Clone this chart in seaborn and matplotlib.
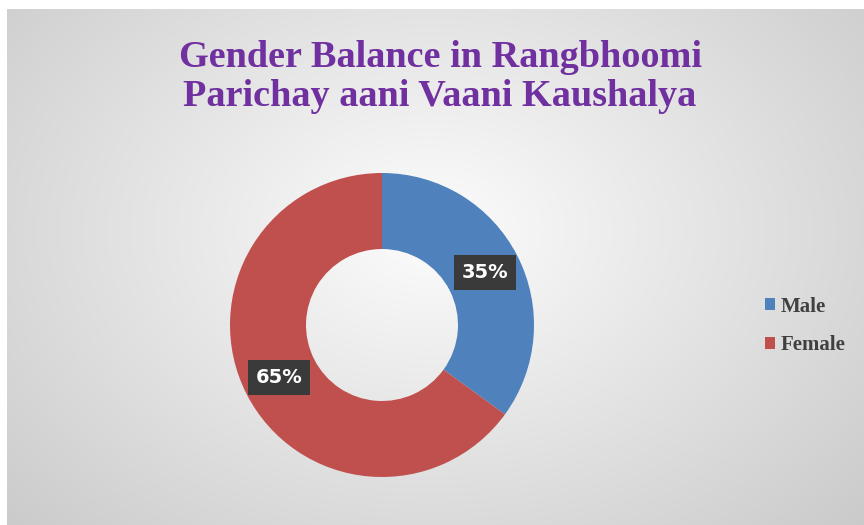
import numpy as np
import matplotlib
matplotlib.use("Agg")
import matplotlib.pyplot as plt
import seaborn as sns
from matplotlib.patches import Patch

categories = ["Male", "Female"]
values = [35, 65]
colors = ["#4F81BD", "#C0504D"]
title = "Gender Balance in Rangbhoomi\nParichay aani Vaani Kaushalya"

sns.set_theme(style="white")
plt.rcParams['font.family'] = ['DejaVu Sans']

W, H = 864, 525
fig = plt.figure(figsize=(W / 100, H / 100), dpi=100)
fig.patch.set_facecolor("white")

# background gradient panel
bx0, by0 = 7, 9
bg = fig.add_axes([bx0 / W, 0, 1 - bx0 / W, 1 - by0 / H])
nx, ny = W - bx0, H - by0
xx, yy = np.meshgrid(np.arange(nx), np.arange(ny))
cx, cy = 430 - bx0, 230 - by0
d = np.sqrt(((xx - cx) / 600.0) ** 2 + ((yy - cy) / 440.0) ** 2)
g = np.clip(0.99 - 0.2 * d, 0.78, 1.0)
img = np.dstack([g, g, g])
bg.imshow(img, aspect="auto", interpolation="bilinear")
bg.set_axis_off()

# donut axes
pcx, pcy, R = 382, 325, 152
ax = fig.add_axes([(pcx - R) / W, (H - pcy - R) / H, 2 * R / W, 2 * R / H])
wedges, texts, autotexts = ax.pie(
    values, colors=colors, startangle=90, counterclock=False,
    radius=1.0, wedgeprops=dict(width=0.5, edgecolor="none", linewidth=0),
    autopct="%d%%", pctdistance=0.76,
    textprops=dict(color="white", fontsize=14, fontweight="bold", family="DejaVu Sans"),
)
for t in autotexts:
    t.set_bbox(dict(boxstyle="square,pad=0.4", facecolor="#3a3a3a", edgecolor="none"))
ax.set_xlim(-1, 1)
ax.set_ylim(-1, 1)
ax.set_axis_off()

fig.text(440 / W, 1 - 77 / H, title, ha="center", va="center",
         fontsize=27.5, fontweight="bold", color="#7030A0",
         family="Liberation Serif", linespacing=1.15)

handles = [Patch(facecolor=c, edgecolor="none") for c in colors]
leg = fig.legend(handles, categories, loc="center left",
                 bbox_to_anchor=(746 / W, 1 - 326 / H), frameon=False,
                 prop=dict(family="Liberation Serif", weight="bold", size=15),
                 handlelength=0.5, handleheight=0.5, handletextpad=0.25,
                 labelspacing=0.9)
for t in leg.get_texts():
    t.set_color("#404040")

fig.savefig("out.png", dpi=100)
